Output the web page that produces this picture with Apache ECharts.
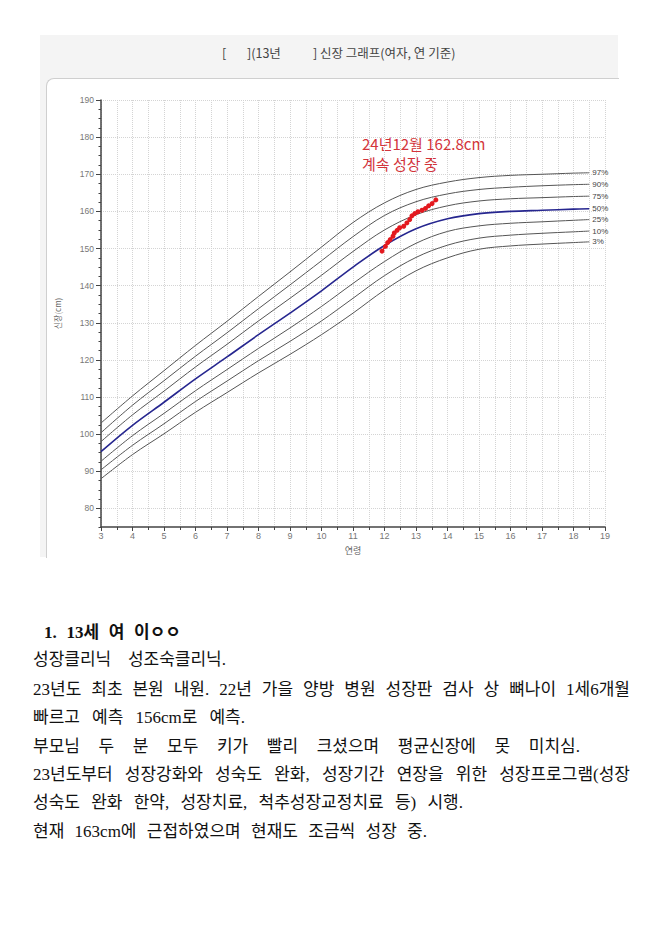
<!DOCTYPE html>
<html>
<head>
<meta charset="utf-8">
<script src="https://cdn.jsdelivr.net/npm/echarts@6/dist/echarts.min.js"></script>
<style>
  html, body { margin: 0; padding: 0; background: #fff; }
  body { width: 660px; height: 933px; position: relative; overflow: hidden; }
  #frame { position: absolute; left: 40px; top: 35px; width: 578px; height: 522px; background: #f4f4f4; }
  #panel { position: absolute; left: 46px; top: 78px; width: 572px; height: 479px; background: #fff;
           border-left: 1px solid #cfcfcf; border-top: 1px solid #cfcfcf; border-top-left-radius: 8px; }
  .ttl { position: absolute; top: 43px; font-family: "Noto Sans CJK KR"; font-size: 12.5px; color: #444; white-space: nowrap; }
  #chart { position: absolute; left: 0; top: 0; width: 660px; height: 560px; }
  .doc { position: absolute; left: 33px; font-family: "Liberation Serif", "Noto Sans CJK KR"; font-size: 17px;
         color: #111; line-height: 22px; white-space: normal; text-align: justify; text-align-last: justify; }
</style>
</head>
<body>
<div id="frame"></div>
<div id="panel"></div>
<span class="ttl" style="left:222px">[</span>
<span class="ttl" style="left:247px">](13년</span>
<span class="ttl" style="left:313px">] 신장 그래프(여자, 연 기준)</span>
<div id="chart"></div>

<div class="doc" style="left:44px;top:622px;width:137px;font-weight:bold;">1. 13세 여 이ㅇㅇ</div>
<div class="doc" style="top:649px;width:193px">성장클리닉 성조숙클리닉.</div>
<div class="doc" style="top:679px;width:597px">23년도 최초 본원 내원. 22년 가을 양방 병원 성장판 검사 상 뼈나이 1세6개월</div>
<div class="doc" style="top:707px;width:212px">빠르고 예측 156cm로 예측.</div>
<div class="doc" style="top:736px;width:547px">부모님 두 분 모두 키가 빨리 크셨으며 평균신장에 못 미치심.</div>
<div class="doc" style="top:764px;width:597px">23년도부터 성장강화와 성숙도 완화, 성장기간 연장을 위한 성장프로그램(성장</div>
<div class="doc" style="top:792px;width:430px">성숙도 완화 한약, 성장치료, 척추성장교정치료 등) 시행.</div>
<div class="doc" style="top:821px;width:394px">현재 163cm에 근접하였으며 현재도 조금씩 성장 중.</div>

<script>
// 연령(세)
const ages = [3, 4, 5, 6, 7, 8, 9, 10, 11, 12, 13, 14, 15, 16, 17, 18, 18.5];

// 백분위 신장(cm), 그림에서 읽은 값
const p97 = [103.0, 110.3, 117.1, 123.9, 130.4, 137.1, 143.7, 150.4, 157.0, 162.3, 165.9, 167.9, 169.1, 169.7, 170.0, 170.3, 170.4];
const p90 = [100.4, 107.8, 114.4, 121.0, 127.3, 133.8, 140.2, 146.7, 153.2, 158.9, 162.6, 164.7, 165.9, 166.5, 166.9, 167.2, 167.3];
const p75 = [98.0, 105.2, 111.6, 118.1, 124.2, 130.5, 136.6, 142.8, 149.2, 155.0, 159.1, 161.5, 162.8, 163.4, 163.7, 164.0, 164.1];
const p50 = [95.3, 102.4, 108.6, 114.9, 120.8, 126.8, 132.6, 138.6, 145.0, 150.8, 155.3, 158.0, 159.4, 160.0, 160.3, 160.6, 160.7];
const p25 = [92.7, 99.6, 105.6, 111.7, 117.4, 123.1, 128.6, 134.4, 140.6, 146.5, 151.4, 154.6, 156.1, 156.8, 157.2, 157.6, 157.8];
const p10 = [90.4, 97.0, 102.8, 108.8, 114.3, 119.8, 125.0, 130.5, 136.6, 142.7, 147.6, 150.9, 152.8, 153.6, 154.1, 154.5, 154.7];
const p3  = [88.0, 94.5, 100.1, 105.9, 111.2, 116.5, 121.5, 126.8, 132.6, 138.8, 144.0, 147.5, 149.8, 150.7, 151.2, 151.6, 151.8];

// 측정값
const childAges = [11.92, 12.03, 12.10, 12.18, 12.27, 12.31, 12.40, 12.48, 12.61, 12.71, 12.80, 12.87, 12.96, 13.06, 13.19, 13.30, 13.40, 13.51, 13.63];
const childHeights = [149.3, 150.6, 151.6, 152.4, 153.3, 154.2, 154.9, 155.6, 156.0, 156.9, 157.8, 158.8, 159.4, 159.9, 160.3, 160.8, 161.5, 162.1, 163.1];

// 축 눈금
const yLabels = [80, 90, 100, 110, 120, 130, 140, 150, 160, 170, 180, 190];

const chart = echarts.init(document.getElementById('chart'), null, { renderer: 'svg' });

const axisFont = 'Liberation Sans';
const axisColor = '#444';

function curve(name, values, color, width) {
  return {
    name: name,
    type: 'line',
    yAxisIndex: 1,
    data: ages.map((a, i) => [a, values[i]]),
    smooth: 0.35,
    symbol: 'none',
    silent: true,
    lineStyle: { color: color, width: width },
    endLabel: { show: true, formatter: name, fontSize: 8, color: '#444', distance: 3, fontFamily: axisFont }
  };
}

const option = {
  backgroundColor: 'transparent',
  animation: false,
  grid: { left: 101, top: 100, width: 504, height: 427 },
  xAxis: {
    type: 'value',
    min: 3, max: 19, interval: 1,
    name: '연령',
    nameLocation: 'middle',
    nameGap: 19,
    nameTextStyle: { fontSize: 9, color: '#666', fontFamily: 'Noto Sans CJK KR' },
    axisLine: { lineStyle: { color: axisColor, width: 1.5 } },
    axisTick: { length: 4, lineStyle: { color: axisColor } },
    minorTick: { show: true, splitNumber: 2, length: 3, lineStyle: { color: axisColor } },
    axisLabel: { fontSize: 9, color: '#777', margin: 5, fontFamily: axisFont },
    splitLine: { show: true, lineStyle: { type: 'dotted', color: '#d4d4d4' } },
    minorSplitLine: { show: true, lineStyle: { type: 'dotted', color: '#d4d4d4' } }
  },
  yAxis: [
    {
      // 보조 눈금 (2.5cm)
      type: 'value',
      min: 75, max: 190, interval: 2.5,
      position: 'left',
      axisLine: { show: false },
      axisTick: { show: true, length: 2.5, lineStyle: { color: axisColor } },
      axisLabel: { show: false },
      splitLine: { show: false }
    },
    {
      type: 'value',
      min: 75, max: 190, interval: 5,
      position: 'left',
      name: '신장(cm)',
      nameLocation: 'middle',
      nameGap: 40,
      nameTextStyle: { fontSize: 8, color: '#666', fontFamily: 'Noto Sans CJK KR' },
      axisLine: { show: true, lineStyle: { color: axisColor, width: 1.5 } },
      axisTick: { length: 5, customValues: yLabels, lineStyle: { color: axisColor } },
      axisLabel: { customValues: yLabels, fontSize: 8.5, color: '#777', margin: 7, fontFamily: axisFont },
      splitLine: { show: true, lineStyle: { type: 'dotted', color: '#d4d4d4' } }
    }
  ],
  graphic: [
    { type: 'text', left: 362, top: 136, style: { text: '24년12월 162.8cm', fontSize: 15, fill: '#d3343b', fontFamily: 'Noto Sans CJK KR' } },
    { type: 'text', left: 362, top: 156, style: { text: '계속 성장 중', fontSize: 15, fill: '#d3343b', fontFamily: 'Noto Sans CJK KR' } }
  ],
  series: [
    curve('97%', p97, '#555', 1),
    curve('90%', p90, '#555', 1),
    curve('75%', p75, '#555', 1),
    curve('50%', p50, '#26268f', 1.6),
    curve('25%', p25, '#555', 1),
    curve('10%', p10, '#555', 1),
    curve('3%', p3, '#555', 1),
    {
      name: '측정',
      type: 'line',
      yAxisIndex: 1,
      data: childAges.map((a, i) => [a, childHeights[i]]),
      symbol: 'circle',
      symbolSize: 5,
      itemStyle: { color: '#e3191f' },
      lineStyle: { color: '#e3191f', width: 1.5 },
      z: 5
    }
  ]
};

chart.setOption(option);
</script>
</body>
</html>
